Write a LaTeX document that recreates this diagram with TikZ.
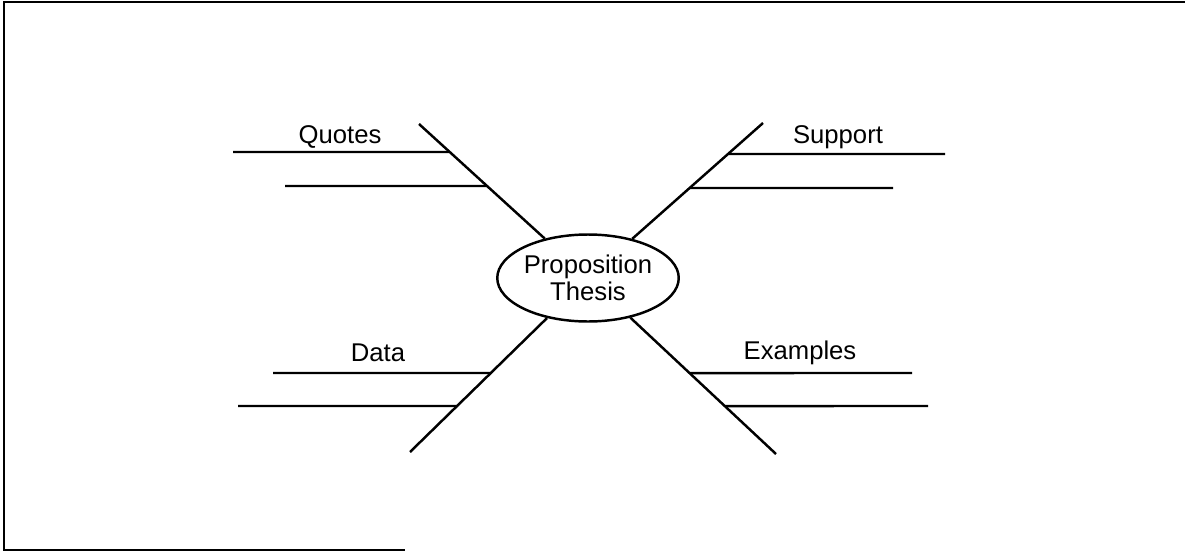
\documentclass[tikz,border=0pt]{standalone}
\usepackage{fontspec}
\setmainfont{Liberation Sans}
\usetikzlibrary{shapes.geometric}

\begin{document}
\begin{tikzpicture}[x=0.02cm,y=-0.02cm,line width=1.4pt,
    hub/.style={ellipse,draw,minimum width=3.44cm,minimum height=1.74cm,inner sep=0pt,
        align=center,font=\fontsize{14.6}{15}\selectfont},
    lbl/.style={font=\fontsize{14.6}{17}\selectfont}]
    \useasboundingbox (0,0) rectangle (1185,551);
    \draw[line width=1pt] (1185,2) -- (4,2) -- (4,550) -- (405,550);
    \node[hub] (thesis) at (588,278) {Proposition\\Thesis};
    \coordinate (quotes) at (419,124);
    \coordinate (support) at (763,123);
    \coordinate (data) at (410,452);
    \coordinate (examples) at (776,454);
    \draw (thesis) -- (quotes) (thesis) -- (support)
          (thesis) -- (data) (thesis) -- (examples);
    \foreach \br/\y/\xa in {quotes/152/233, quotes/186/285, support/154/945, support/188/893,
                            data/373/273, data/406/238, examples/373/912, examples/406/928}
        \draw (\xa,\y) -- (intersection cs: first line={(thesis.center)--(\br)},
                                           second line={(0,\y)--(1,\y)});
    \node[lbl] (quoteslbl) at (340,137) {Quotes};
    \node[lbl] (supportlbl) at (838,137) {Support};
    \node[lbl] (datalbl) at (378,353) {Data};
    \node[lbl] (exampleslbl) at (800,353) {Examples};
\end{tikzpicture}
\end{document}
